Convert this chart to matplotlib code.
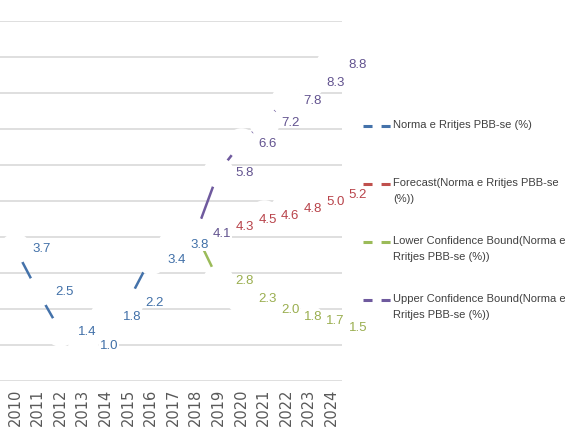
import numpy as np
import matplotlib
matplotlib.use('Agg')
import matplotlib.pyplot as plt
from matplotlib.lines import Line2D

plt.rcParams['lines.scale_dashes'] = False

years = list(range(2010, 2025))
hist_years = list(range(2010, 2019))
fc_years = list(range(2018, 2025))

gdp_growth = [3.7, 2.5, 1.4, 1.0, 1.8, 2.2, 3.4, 3.8, 4.1]
forecast = [4.1, 4.3, 4.5, 4.6, 4.8, 5.0, 5.2]
lower_bound = [4.1, 2.8, 2.3, 2.0, 1.8, 1.7, 1.5]
upper_bound = [4.1, 5.8, 6.6, 7.2, 7.8, 8.3, 8.8]

names = ['Norma e Rritjes PBB-se (%)',
         'Forecast(Norma e Rritjes PBB-se\n(%))',
         'Lower Confidence Bound(Norma e\nRritjes PBB-se (%))',
         'Upper Confidence Bound(Norma e\nRritjes PBB-se (%))']

line_colors = ['#4472aa', '#c0504d', '#9bbb59', '#6f5a9e']
text_colors = ['#4170a8', '#b8434a', '#9aae4f', '#62538f']
label_font = ['Liberation Sans', 'DejaVu Sans']

W, H = 565, 439
fig = plt.figure(figsize=(W / 100, H / 100), dpi=100)
ax = fig.add_axes([0, 57 / H, 342 / W, 360 / H])

series = [
    (hist_years, gdp_growth),
    (fc_years, forecast),
    (fc_years, lower_bound),
    (fc_years, upper_bound),
]

x_of = {y: i for i, y in enumerate(years)}

# lines first, then big white markers that blank out the area around each point
for (yrs, vals), c in zip(series, line_colors):
    xs = [x_of[y] for y in yrs]
    ax.plot(xs, vals, color=c, lw=1.8, zorder=2, solid_capstyle='butt')
for (yrs, vals), c in zip(series, line_colors):
    xs = [x_of[y] for y in yrs]
    ax.plot(xs, vals, ls='none', marker='o', ms=22, mfc='white', mec='none', zorder=3)

for (yrs, vals), c in zip(series, text_colors):
    for y, v in zip(yrs, vals):
        ax.annotate(f'{v:.1f}', (x_of[y], v), xytext=(12.5, 0), textcoords='offset points',
                    ha='left', va='center', fontsize=9.5, color=c, family=label_font,
                    bbox=dict(boxstyle='square,pad=0.05', fc='white', ec='none'), zorder=5)

ax.set_xlim(-0.66, 14.47)
ax.set_ylim(0, 10)
ax.set_yticks(np.arange(0, 11))
ax.yaxis.grid(True, color='#d9d9d9', lw=1.2)
ax.set_axisbelow(True)
ax.tick_params(axis='y', left=False, labelleft=False)
ax.tick_params(axis='x', length=0, pad=5)
ax.set_xticks(range(len(years)))
ax.set_xticklabels([str(y) for y in years], rotation=90, fontsize=10.5, color='#595959')
for s in ax.spines.values():
    s.set_visible(False)

# legend on the right, handle level with the first text line
legend_rows = [127, 185, 243, 301]
for name, c, yc in zip(names, line_colors, legend_rows):
    yf = 1 - yc / H
    fig.add_artist(Line2D([363 / W, 392 / W], [yf, yf], transform=fig.transFigure,
                          color=c, lw=2.2, dashes=(6.5, 6.5)))
    fig.text(393 / W, 1 - (yc - 6.5) / H, name, ha='left', va='top', fontsize=8,
             color='#404040', family=label_font, linespacing=1.65)

fig.savefig('out.png', dpi=100)
